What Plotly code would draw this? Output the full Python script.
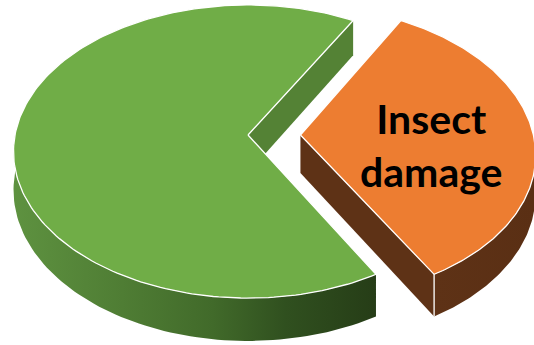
import numpy as np
import plotly.graph_objects as go

# ---- data ----
labels = ["Other", "Insect damage"]
values = [66.5, 33.5]
slice_text = ["", "Insect<br>damage"]

# ---- styles ----
top_colors = ["#70AD47", "#ED7D31"]
cut_colors = ["#548235", "#5E3216"]
side_scales = [
    [[0, "#5E9240"], [0.3, "#4F7D34"], [0.55, "#416A2A"], [0.75, "#30501F"], [1, "#263D17"]],
    [[0, "#5E3216"], [1, "#5A2F14"]],
]
explode = [0.0, 0.225]

W, H = 534, 345
CX, CY = 248, 135          # pie centre on screen
RX, RZ = 233, 144.7        # horizontal radius, depth radius
THICK = 38                 # pie thickness
D = 8.87                   # perspective distance
START = 60.3               # angle where the first slice starts (deg, clockwise)


def proj(X, Z, lvl):
    s = D / (D - Z)
    return CX + RX * X * s, CY + (RZ * Z + THICK * lvl) * s


def rim(th_list, lvl, ox, oz):
    th = np.radians(np.asarray(th_list))
    return proj(ox + np.cos(th), oz + np.sin(th), lvl)


total = float(sum(values))
fig = go.Figure()


def poly(xs, ys, color=None, grad=None, lc="rgba(0,0,0,0)", lw=0):
    kw = dict(x=list(xs), y=list(ys), mode="lines", fill="toself",
              line=dict(color=lc, width=lw), hoverinfo="skip", showlegend=False)
    if grad is not None:
        kw["fillgradient"] = dict(type="horizontal", colorscale=grad)
    else:
        kw["fillcolor"] = color
    fig.add_trace(go.Scatter(**kw))


a0 = START
for i, v in enumerate(values):
    span = v / total * 360.0
    a1 = a0 + span
    mid = np.radians((a0 + a1) / 2)
    ox, oz = explode[i] * np.cos(mid), explode[i] * np.sin(mid)
    apx_t = proj(ox, oz, 0)
    apx_b = proj(ox, oz, 1)

    # cut faces (visible ones)
    for edge in (a0, a1):
        e = np.radians(edge)
        ex, ez = ox + np.cos(e), oz + np.sin(e)
        sgn = -1 if edge == a0 else 1
        nz = sgn * np.cos(e)
        if nz > 0.05:
            et = proj(ex, ez, 0)
            eb = proj(ex, ez, 1)
            poly([apx_t[0], et[0], eb[0], apx_b[0]],
                 [apx_t[1], et[1], eb[1], apx_b[1]], color=cut_colors[i])

    # outer side, visible part (front half)
    segs = []
    for k in range(-1, 2):
        lo, hi = max(a0, 0 + 360 * k), min(a1, 180 + 360 * k)
        if hi > lo:
            segs.append((lo, hi))
    for lo, hi in segs:
        th = np.linspace(lo, hi, 80)
        tx, ty = rim(th, 0, ox, oz)
        bx, by = rim(th[::-1], 1, ox, oz)
        poly(np.concatenate([tx, bx]), np.concatenate([ty, by]), grad=side_scales[i])

    # top face
    th = np.linspace(a0, a1, 200)
    tx, ty = rim(th, 0, ox, oz)
    poly(np.concatenate([[apx_t[0]], tx, [apx_t[0]]]),
         np.concatenate([[apx_t[1]], ty, [apx_t[1]]]),
         color=top_colors[i], lc="white", lw=1.3)

    # white vertical corner edge on exploded slice
    if explode[i] > 0:
        e = np.radians(a1)
        ex, ez = ox + np.cos(e), oz + np.sin(e)
        et, eb = proj(ex, ez, 0), proj(ex, ez, 1)
        fig.add_trace(go.Scatter(x=[et[0], eb[0]], y=[et[1], eb[1]], mode="lines",
                                 line=dict(color="white", width=1.3),
                                 hoverinfo="skip", showlegend=False))

    if slice_text[i]:
        fig.add_annotation(x=431, y=145, text="<b>" + slice_text[i] + "</b>",
                           showarrow=False, xanchor="center", yanchor="middle",
                           font=dict(family="Lato", size=41, color="black"))
    a0 = a1

fig.update_layout(
    width=W, height=H, margin=dict(l=0, r=0, t=0, b=0),
    paper_bgcolor="white", plot_bgcolor="white",
    xaxis=dict(range=[0, W], visible=False, fixedrange=True),
    yaxis=dict(range=[H, 0], visible=False, fixedrange=True),
)
fig.write_html("out.html")
